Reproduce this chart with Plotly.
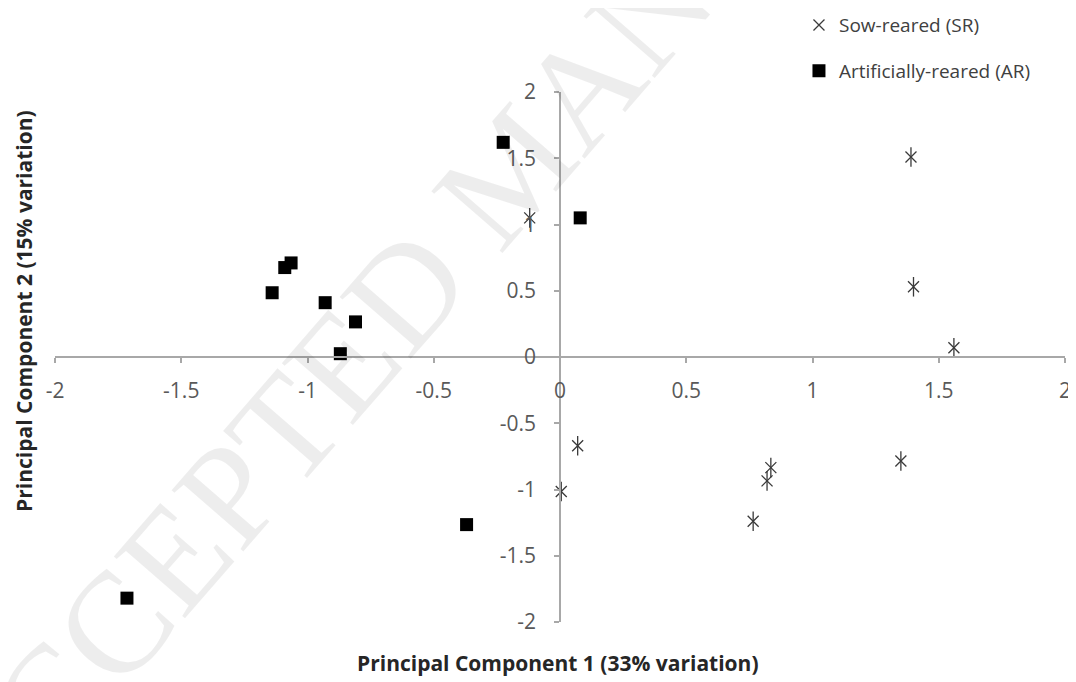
import plotly.graph_objects as go

# Sow-reared (SR) PCA scores
sr_pc1 = [-0.12, 1.39, 1.40, 1.56, 0.07, 0.005, 0.835, 0.82, 0.765, 1.35]
sr_pc2 = [1.05, 1.51, 0.53, 0.07, -0.67, -1.015, -0.835, -0.935, -1.24, -0.785]

# Artificially-reared (AR) PCA scores
ar_pc1 = [-0.225, 0.08, -1.09, -1.065, -1.14, -0.93, -0.81, -0.87, -0.37, -1.715]
ar_pc2 = [1.62, 1.05, 0.675, 0.71, 0.485, 0.41, 0.265, 0.025, -1.265, -1.82]

x_tick_vals = [-2, -1.5, -1, -0.5, 0, 0.5, 1, 1.5, 2]
x_tick_text = ["-2", "-1.5", "-1", "-0.5", "0", "0.5", "1", "1.5", "2"]
y_tick_vals = [-2, -1.5, -1, -0.5, 0, 0.5, 1, 1.5, 2]
y_tick_text = ["-2", "-1.5", "-1", "-0.5", "0", "0.5", "1", "1.5", "2"]

AXIS_COLOR = "#a8a8a8"
TICK_FONT = dict(family="Open Sans, Lato, sans-serif", size=21, color="#595959")

fig = go.Figure()

fig.add_trace(go.Scatter(
    x=sr_pc1, y=sr_pc2, mode="markers", name="Sow-reared (SR)",
    legendgroup="sr",
    marker=dict(symbol="x-thin-open", size=11,
                line=dict(color="#3a3a3a", width=1.3), color="#3a3a3a"),
))
fig.add_trace(go.Scatter(
    x=sr_pc1, y=sr_pc2, mode="markers", name="Sow-reared (SR)",
    legendgroup="sr", showlegend=False,
    marker=dict(symbol="line-ns-open", size=14,
                line=dict(color="#3a3a3a", width=1.3), color="#3a3a3a"),
))
fig.add_trace(go.Scatter(
    x=ar_pc1, y=ar_pc2, mode="markers", name="Artificially-reared (AR)",
    legendgroup="ar",
    marker=dict(symbol="square", size=13, color="#000000"),
))

# The page body adds an 8px margin, so the figure is 8px smaller than the window
fig.update_layout(
    width=1068, height=674,
    margin=dict(l=47, r=11, t=84, b=60, autoexpand=False),
    paper_bgcolor="white", plot_bgcolor="white",
    font=dict(family="Open Sans, sans-serif", color="#404040"),
    xaxis=dict(
        range=[-2, 2], anchor="free", position=0.5, automargin=False,
        tickvals=x_tick_vals, ticktext=x_tick_text,
        showline=True, linecolor=AXIS_COLOR, linewidth=1.5,
        ticks="outside", ticklen=5, tickcolor=AXIS_COLOR, tickwidth=1.5,
        ticklabelstandoff=10, ticklabeloverflow="allow",
        showgrid=False, zeroline=False, tickfont=TICK_FONT,
    ),
    yaxis=dict(
        range=[-2, 2], anchor="free", position=0.5, automargin=False,
        tickvals=y_tick_vals, ticktext=y_tick_text,
        showline=True, linecolor=AXIS_COLOR, linewidth=1.5,
        ticks="outside", ticklen=5, tickcolor=AXIS_COLOR, tickwidth=1.5,
        ticklabelstandoff=14, ticklabeloverflow="allow",
        showgrid=False, zeroline=False, tickfont=TICK_FONT,
    ),
    legend=dict(
        x=0.7366, y=1.162, xanchor="left", yanchor="top",
        traceorder="grouped", tracegroupgap=18,
        font=dict(family="Open Sans, sans-serif", size=19, color="#404040"),
        bgcolor="rgba(0,0,0,0)",
    ),
    showlegend=True,
)

fig.add_annotation(
    text="ACCEPTED MANUSCRIPT", xref="paper", yref="paper",
    x=0.4525, y=0.855, xanchor="center", yanchor="middle",
    showarrow=False, textangle=-49,
    font=dict(family="Liberation Serif, DejaVu Serif, serif", size=144,
              color="rgba(0,0,0,0.07)"),
)
fig.add_annotation(
    text="<b>Principal Component 1 (33% variation)</b>",
    xref="paper", yref="paper", x=0.498, y=-0.0774,
    xanchor="center", yanchor="middle", showarrow=False,
    font=dict(family="Open Sans, sans-serif", size=21, color="#262626"),
)
fig.add_annotation(
    text="<b>Principal Component 2 (15% variation)</b>",
    xref="paper", yref="paper", x=-0.0307, y=0.587,
    xanchor="center", yanchor="middle", showarrow=False, textangle=-90,
    font=dict(family="Open Sans, sans-serif", size=21, color="#262626"),
)

fig.write_html("out.html")
